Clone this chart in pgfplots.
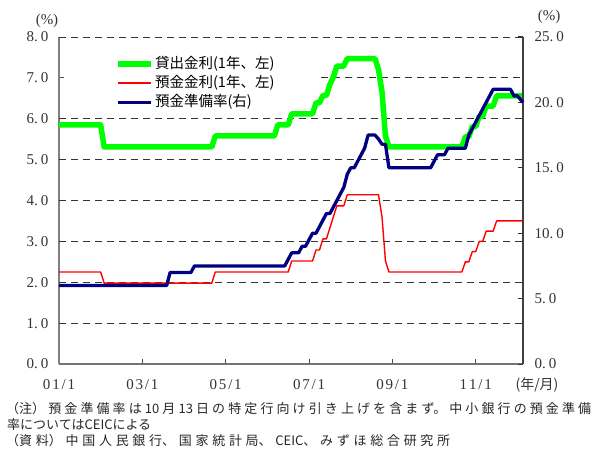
\documentclass[border=0pt]{standalone}
\usepackage{fontspec}
\setmainfont{Liberation Serif}
\newfontfamily\jp{Noto Sans CJK JP}
\usepackage{pgfplots}
\usepackage{pgfplotstable}
\pgfplotsset{compat=1.18}
\definecolor{lgreen}{RGB}{0,255,0}
\definecolor{navyb}{RGB}{0,0,128}
\definecolor{depred}{RGB}{255,0,0}

\pgfplotstableread{
m v
0 5.85
12 5.85
13 5.31
44 5.31
45 5.58
62 5.58
63 5.85
66 5.85
67 6.12
73 6.12
74 6.39
75 6.39
76 6.57
77 6.57
78 6.84
79 7.02
80 7.29
82 7.29
83 7.47
91 7.47
92 7.20
93 6.66
94 5.58
95 5.31
116 5.31
117 5.56
118 5.56
119 5.81
120 5.81
121 6.06
122 6.06
123 6.31
125 6.31
126 6.56
133.6 6.56
}\lending

\pgfplotstableread{
m v
0 2.25
12 2.25
13 1.98
44 1.98
45 2.25
66 2.25
67 2.52
73 2.52
74 2.79
75 2.79
76 3.06
77 3.06
78 3.33
79 3.60
80 3.87
82 3.87
83 4.14
92 4.14
93 3.60
94 2.52
95 2.25
116 2.25
117 2.50
118 2.50
119 2.75
120 2.75
121 3.00
122 3.00
123 3.25
125 3.25
126 3.50
133.6 3.50
}\deposit

\pgfplotstableread{
m v
0 6.0
31 6.0
32 7.0
38 7.0
39 7.5
65 7.5
66 8.0
67 8.5
69 8.5
70 9.0
71 9.0
72 9.5
73 10.0
74 10.0
75 10.5
76 11.0
77 11.5
78 11.5
79 12.0
80 12.5
81 13.0
82 13.5
83 14.5
84 15.0
85 15.0
86 15.5
87 16.0
88 16.5
89 17.5
91 17.5
92 17.2
93 16.8
94 16.8
95 15.0
107 15.0
108 15.5
109 16.0
111 16.0
112 16.5
117 16.5
118 17.5
119 18.0
120 18.5
121 19.0
122 19.5
123 20.0
124 20.5
125 21.0
130 21.0
131 20.5
132 20.5
133.6 20.0
}\rrr

\newcommand\tickfont{\fontsize{15}{17}\selectfont}
\newcommand\noteline[2]{\parbox{#1}{\XeTeXlinebreaklocale "ja"\XeTeXlinebreakskip=0pt plus 4pt\parfillskip=0pt\noindent #2}}
\tikzset{gridl/.style={black!80, line width=0.9pt, dash pattern=on 7pt off 5pt}}

\begin{document}
\begin{tikzpicture}[x=1pt,y=1pt]
\useasboundingbox (0,0) rectangle (595,448);
\begin{axis}[
  at={(59pt,84pt)}, anchor=south west,
  scale only axis, width=464pt, height=327pt,
  xmin=0, xmax=133.6, ymin=0, ymax=8,
  axis x line*=bottom, axis y line*=left,
  x axis line style={-, black!55, line width=1.6pt},
  y axis line style={-, black!50, line width=1.2pt},
  xtick={0,24,48,72,96,120},
  xticklabels={0\kern1.8pt1\kern1.8pt/\kern1.8pt1,0\kern1.8pt3\kern1.8pt/\kern1.8pt1,0\kern1.8pt5\kern1.8pt/\kern1.8pt1,0\kern1.8pt7\kern1.8pt/\kern1.8pt1,0\kern1.8pt9\kern1.8pt/\kern1.8pt1,1\kern1.8pt1\kern1.8pt/\kern1.8pt1},
  ytick={0,1,...,8},
  yticklabels={0.\kern3pt0,1.\kern3pt0,2.\kern3pt0,3.\kern3pt0,4.\kern3pt0,5.\kern3pt0,6.\kern3pt0,7.\kern3pt0,8.\kern3pt0},
  tick align=inside, major tick length=5pt,
  tick style={black!70, line width=1pt},
  xticklabel style={font=\tickfont, text=black!80, anchor=base, yshift=-25pt},
  yticklabel style={font=\tickfont, text=black!80, xshift=-7pt},
  legend style={at={(0.115,0.951)}, anchor=north west, draw=none, fill=none,
    font=\jp\fontsize{14.5}{16}\selectfont, row sep=1pt, column sep=0pt,
    nodes={inner sep=1pt, text height=12pt, text depth=4pt}},
  legend cell align=left,
  clip=false
]
\draw[gridl] (axis cs:0,1) -- (axis cs:133.6,1);
\draw[gridl] (axis cs:0,2) -- (axis cs:133.6,2);
\draw[gridl] (axis cs:0,3) -- (axis cs:133.6,3);
\draw[gridl] (axis cs:0,4) -- (axis cs:133.6,4);
\draw[gridl] (axis cs:0,5) -- (axis cs:133.6,5);
\draw[gridl] (axis cs:0,6) -- (axis cs:133.6,6);
\draw[gridl] (axis cs:75.5,7) -- (axis cs:133.6,7);
\draw[gridl] (axis cs:0,8) -- (axis cs:133.6,8);
\addplot[lgreen, line width=5.5pt, line join=round, forget plot] table[x=m, y=v] {\lending};
\addplot[depred, line width=1.4pt, line join=round, forget plot] table[x=m, y=v] {\deposit};
\addlegendimage{legend image code/.code={\draw[draw=lgreen, line width=5.5pt] (-2pt,0pt) -- (31pt,0pt);}}
\addlegendentry{貸出金利(1年、左)}
\addlegendimage{legend image code/.code={\draw[draw=red, line width=1.9pt] (-2pt,0.5pt) -- (31pt,0.5pt);}}
\addlegendentry{預金金利(1年、左)}
\addlegendimage{legend image code/.code={\draw[draw=navyb, line width=3.3pt] (-2pt,0pt) -- (31pt,0pt);}}
\addlegendentry{預金準備率(右)}
\end{axis}
\begin{axis}[
  at={(59pt,84pt)}, anchor=south west,
  scale only axis, width=464pt, height=327pt,
  xmin=0, xmax=133.6, ymin=0, ymax=25,
  axis x line=none, axis y line*=right,
  y axis line style={-, black!75, line width=1.2pt},
  ytick={0,5,...,25},
  yticklabels={0.\kern3pt0,5.\kern3pt0,10.\kern3pt0,15.\kern3pt0,20.\kern3pt0,25.\kern3pt0},
  tick align=inside, major tick length=5pt,
  tick style={black!80, line width=1pt},
  yticklabel style={font=\tickfont, text=black!80, xshift=8pt},
  clip=false
]
\addplot[navyb, line width=3.3pt, line join=round] table[x=m, y=v] {\rrr};
\end{axis}
\node[font=\fontsize{15}{17}\selectfont, text=black!80] at (47,427) {(\%)};
\node[font=\fontsize{15}{17}\selectfont, text=black!80] at (549,431) {(\%)};
\node[font=\jp\fontsize{14}{16}\selectfont, text=black!80, anchor=base] at (537,59) {(年/月)};
\begin{scope}[font=\jp\fontsize{13}{15}\selectfont]
\node[anchor=base west, inner sep=0pt, text=black!85] at (6,36) {\noteline{585pt}{（注）預金準備率は10月13日の特定行向け引き上げを含まず。中小銀行の預金準備}};
\node[anchor=base west, inner sep=0pt, text=black!85] at (7,19) {率についてはCEICによる};
\node[anchor=base west, inner sep=0pt, text=black!85] at (6,4) {\noteline{444pt}{（資料）中国人民銀行、国家統計局、CEIC、みずほ総合研究所}};
\end{scope}
\end{tikzpicture}
\end{document}
